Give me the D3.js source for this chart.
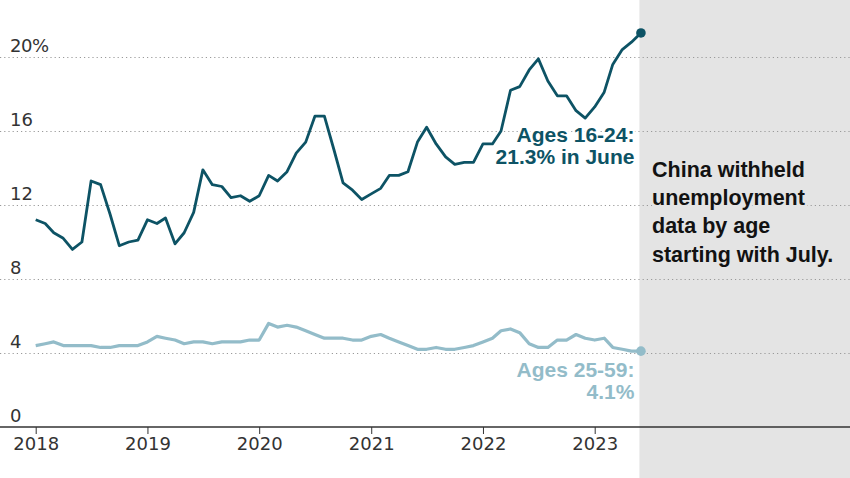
<!DOCTYPE html>
<html>
<head>
<meta charset="utf-8">
<script src="https://cdn.jsdelivr.net/npm/d3@7"></script>
<style>
  html, body { margin: 0; padding: 0; background: #fff; }
  svg { display: block; }
</style>
</head>
<body>
<svg id="chart" width="850" height="478"></svg>
<script>
// ---- Data ----
const startMonth = "2018-01";
const youth = [ // Ages 16-24, monthly Jan 2018 - Jun 2023
  11.2, 11.0, 10.5, 10.2, 9.6, 10.0, 13.3, 13.1, 11.5, 9.8, 10.0, 10.1,
  11.2, 11.0, 11.3, 9.9, 10.5, 11.6, 13.9, 13.1, 13.0, 12.4, 12.5, 12.2,
  12.5, 13.6, 13.3, 13.8, 14.8, 15.4, 16.8, 16.8, 15.0, 13.2, 12.8, 12.3,
  12.6, 12.9, 13.6, 13.6, 13.8, 15.4, 16.2, 15.3, 14.6, 14.2, 14.3, 14.3,
  15.3, 15.3, 16.0, 18.2, 18.4, 19.3, 19.9, 18.7, 17.9, 17.9, 17.1, 16.7,
  17.3, 18.1, 19.6, 20.4, 20.8, 21.3
];
const adults = [ // Ages 25-59
  4.4, 4.5, 4.6, 4.4, 4.4, 4.4, 4.4, 4.3, 4.3, 4.4, 4.4, 4.4,
  4.6, 4.9, 4.8, 4.7, 4.5, 4.6, 4.6, 4.5, 4.6, 4.6, 4.6, 4.7,
  4.7, 5.6, 5.4, 5.5, 5.4, 5.2, 5.0, 4.8, 4.8, 4.8, 4.7, 4.7,
  4.9, 5.0, 4.8, 4.6, 4.4, 4.2, 4.2, 4.3, 4.2, 4.2, 4.3, 4.4,
  4.6, 4.8, 5.2, 5.3, 5.1, 4.5, 4.3, 4.3, 4.7, 4.7, 5.0, 4.8,
  4.7, 4.8, 4.3, 4.2, 4.1, 4.1
];
const yTicks = [0, 4, 8, 12, 16, 20];
const yTickLabels = ["0", "4", "8", "12", "16", "20"];
const xTickYears = [2018, 2019, 2020, 2021, 2022, 2023];
const youthLabel = ["Ages 16-24:", "21.3% in June"];
const adultLabel = ["Ages 25-59:", "4.1%"];
const noteLines = ["China withheld", "unemployment", "data by age", "starting with July."];

// ---- Setup ----
const W = 850, H = 478;
const darkColor = "#0d5365";
const lightColor = "#93bcc9";
const svg = d3.select("#chart");

const parseMonth = d3.timeParse("%Y-%m");
const t0 = parseMonth(startMonth);
const dates = youth.map((_, i) => d3.timeMonth.offset(t0, i));

const x = d3.scaleTime()
  .domain([new Date(2018, 0, 1), new Date(2023, 0, 1)])
  .range([35.7, 594.7]);
const y = d3.scaleLinear().domain([0, 20]).range([427, 57]);

const cutoff = dates[dates.length - 1];

// grey "withheld" panel
svg.append("rect")
  .attr("x", x(cutoff) - 1.5).attr("y", 0)
  .attr("width", W - x(cutoff) + 1.5).attr("height", H)
  .attr("fill", "#e4e4e4");

// gridlines
svg.append("g").selectAll("line")
  .data(yTicks.filter(d => d > 0))
  .join("line")
  .attr("x1", 0).attr("x2", W)
  .attr("y1", d => Math.round(y(d)) + 0.5).attr("y2", d => Math.round(y(d)) + 0.5)
  .attr("stroke", "#9a9a9a").attr("stroke-width", 1.1)
  .attr("stroke-dasharray", "1.2,3");

// x axis
const xAxis = d3.axisBottom(x)
  .tickValues(xTickYears.map(yr => new Date(yr, 0, 1)))
  .tickFormat(d3.timeFormat("%Y"))
  .tickSize(7).tickPadding(3);
const gx = svg.append("g").attr("transform", `translate(0,${y(0)})`).call(xAxis);
gx.select(".domain").remove();
gx.selectAll(".tick line").attr("stroke", "#333");
gx.selectAll(".tick text")
  .attr("fill", "#333").attr("font-family", "DejaVu Sans, sans-serif")
  .attr("font-size", 18);
svg.append("line")
  .attr("x1", 0).attr("x2", W)
  .attr("y1", y(0)).attr("y2", y(0))
  .attr("stroke", "#333").attr("stroke-width", 1.3);

// y labels
const yl = svg.append("g").selectAll("text")
  .data(yTicks)
  .join("text")
  .attr("x", 10).attr("y", d => y(d) - 5.5)
  .attr("fill", "#333").attr("font-family", "DejaVu Sans, sans-serif")
  .attr("font-size", 18)
  .text((d, i) => yTickLabels[i] + (d === 20 ? "%" : ""));
yl.filter(d => d === 20).attr("letter-spacing", -0.5);

// lines
const line = d3.line()
  .x((d, i) => x(dates[i]))
  .y(d => y(d))
  .curve(d3.curveLinear);

svg.append("path").datum(adults)
  .attr("d", line).attr("fill", "none")
  .attr("stroke", lightColor).attr("stroke-width", 3.2)
  .attr("stroke-linejoin", "round");
svg.append("path").datum(youth)
  .attr("d", line).attr("fill", "none")
  .attr("stroke", darkColor).attr("stroke-width", 2.8)
  .attr("stroke-linejoin", "round");

// end dots
const last = youth.length - 1;
svg.append("circle").attr("cx", x(dates[last])).attr("cy", y(youth[last]))
  .attr("r", 4.8).attr("fill", darkColor);
svg.append("circle").attr("cx", x(dates[last])).attr("cy", y(adults[last]))
  .attr("r", 4.8).attr("fill", lightColor);

// annotations
function label(lines, xr, yBase, color, halo) {
  const t = svg.append("text")
    .attr("text-anchor", "end")
    .attr("font-family", "Liberation Sans, Arial, sans-serif")
    .attr("font-weight", "bold").attr("font-size", 21)
    .attr("fill", color)
    .attr("stroke", halo).attr("stroke-width", 5)
    .attr("stroke-linejoin", "round")
    .attr("paint-order", "stroke");
  lines.forEach((s, i) => {
    t.append("tspan").attr("x", xr).attr("y", yBase + i * 22.4).text(s);
  });
}
label(youthLabel, x(dates[last]) - 6.5, 141.8, darkColor, "#fff");
label(adultLabel, x(dates[last]) - 6.5, 376.7, lightColor, "#fff");

// note in grey panel
const note = svg.append("text")
  .attr("font-family", "Liberation Sans, Arial, sans-serif")
  .attr("font-weight", "bold").attr("font-size", 21.5)
  .attr("fill", "#121212")
  .attr("stroke", "#e4e4e4").attr("stroke-width", 5)
  .attr("paint-order", "stroke");
noteLines.forEach((s, i) => {
  note.append("tspan").attr("x", 652).attr("y", 176.7 + i * 28.3).text(s);
});
</script>
</body>
</html>
